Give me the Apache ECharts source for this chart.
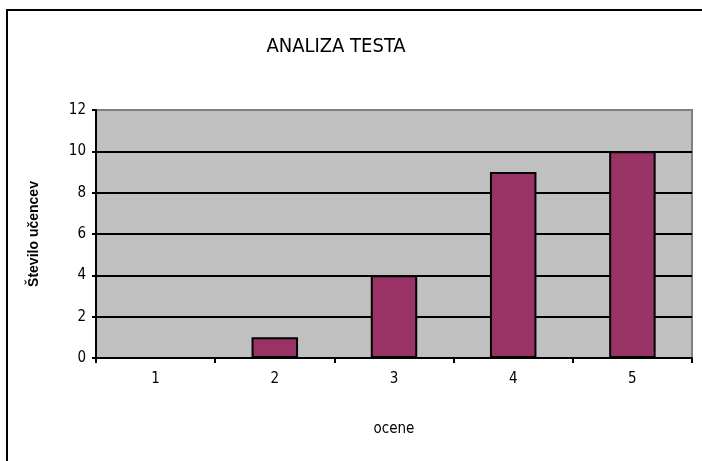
<!DOCTYPE html>
<html>
<head>
<meta charset="utf-8">
<script src="https://cdn.jsdelivr.net/npm/echarts@6/dist/echarts.min.js"></script>
<style>
  html, body { margin: 0; padding: 0; background: #fff; }
  #main { width: 702px; height: 461px; }
</style>
</head>
<body>
<div id="main"></div>
<script>
var ocene = ['1', '2', '3', '4', '5'];
var stevilo = [0, 1, 4, 9, 10];
var yTicks = [0, 2, 4, 6, 8, 10, 12];

var narrow = '"Liberation Sans Narrow", "DejaVu Sans Condensed", sans-serif';

var myChart = echarts.init(document.getElementById('main'));

var option = {
    animation: false,
    textStyle: { fontFamily: narrow, color: '#000' },
    title: {
        text: 'ANALIZA TESTA',
        left: 331,
        top: 32,
        textAlign: 'center',
        textStyle: { fontSize: 20, fontWeight: 'normal', color: '#000', fontFamily: narrow }
    },
    graphic: [
        {
            type: 'rect',
            shape: { x: 7, y: 10, width: 720, height: 480 },
            style: { fill: 'none', stroke: '#000', lineWidth: 2 },
            silent: true
        }
    ],
    grid: {
        left: 96, right: 10, top: 110, bottom: 103,
        show: true,
        backgroundColor: '#c0c0c0',
        borderColor: '#808080',
        borderWidth: 2
    },
    xAxis: {
        type: 'category',
        data: ocene,
        name: 'ocene',
        nameLocation: 'middle',
        nameGap: 64,
        nameTextStyle: { fontSize: 15, color: '#000', fontFamily: narrow },
        axisLine: { lineStyle: { color: '#000', width: 2 } },
        axisTick: { show: true, length: 5, lineStyle: { color: '#000', width: 2 } },
        axisLabel: { fontSize: 15, color: '#000', margin: 14, fontFamily: narrow }
    },
    yAxis: {
        type: 'value',
        min: yTicks[0],
        max: yTicks[yTicks.length - 1],
        interval: 2,
        name: 'Število učencev',
        nameLocation: 'middle',
        nameGap: 55,
        nameTextStyle: { fontSize: 14, color: '#000', fontWeight: 'bold', fontFamily: 'Liberation Sans, Arial, sans-serif' },
        axisLine: { show: true, lineStyle: { color: '#000', width: 2 } },
        axisTick: { show: true, length: 4, lineStyle: { color: '#000', width: 2 } },
        axisLabel: { fontSize: 15, color: '#000', margin: 10, fontFamily: narrow },
        splitLine: { show: true, showMaxLine: false, lineStyle: { color: '#000', width: 2 } }
    },
    series: [
        {
            name: 'Število učencev',
            type: 'bar',
            data: stevilo,
            barWidth: '39%',
            itemStyle: { color: '#993366', borderColor: '#000', borderWidth: 2 }
        }
    ]
};

myChart.setOption(option);
</script>
</body>
</html>
